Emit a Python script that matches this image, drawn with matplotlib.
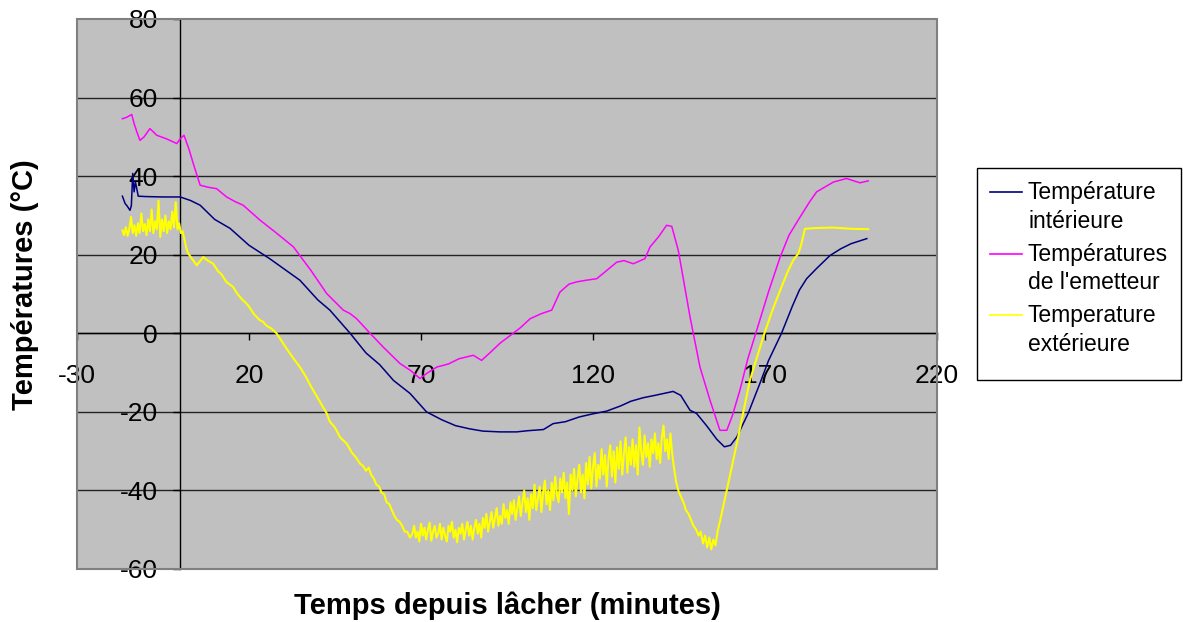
import matplotlib
matplotlib.use("Agg")
import matplotlib.pyplot as plt
from matplotlib.patches import Rectangle
from matplotlib.lines import Line2D

plt.rcParams["font.family"] = ["Liberation Sans", "DejaVu Sans"]
plt.rcParams["axes.unicode_minus"] = False

# ── Data (minutes since release, °C) ────────────────────────────────────────
interieur_x = [-16.8, -16, -15.5, -14.6, -14.2, -13.8, -13.4, -13, -12.2, -10, -5, 0,
               3, 5.8, 10, 14.5, 20, 26, 30, 34.8, 40, 43.5, 49.4, 54, 58, 62, 66.8,
               71.6, 76, 80, 84, 88, 93, 97.8, 101, 105.6, 108.4, 112, 116, 120, 124,
               128, 131, 134.6, 138, 143.3, 145.5, 148.2, 150.1, 153, 156, 158.2, 160,
               161.8, 165.1, 168.5, 171, 174.8, 178, 180, 182.1, 185, 188.9, 192, 195,
               199.6]
interieur_y = [34.9, 33.0, 32.5, 31.3, 32.5, 40.7, 36.0, 38.5, 34.9, 34.8, 34.7, 34.7,
               33.8, 32.6, 29.0, 26.7, 22.4, 19.0, 16.5, 13.5, 8.5, 5.9, 0, -5.0, -8.0,
               -12.0, -15.3, -20.0, -22.0, -23.5, -24.3, -24.9, -25.1, -25.1, -24.8,
               -24.5, -23.0, -22.5, -21.3, -20.5, -19.8, -18.5, -17.3, -16.4, -15.8,
               -14.8, -15.8, -19.6, -20.4, -23.5, -27.0, -28.9, -28.5, -26.4, -20.4,
               -12.8, -7.0, 0, 7.0, 11.0, 13.9, 16.5, 19.8, 21.5, 22.8, 24.1]

emetteur_x = [-16.8, -15.5, -14.1, -13.4, -12.5, -11.7, -10.5, -8.8, -7.5, -6.8, -4, -1.0,
              0, 1.1, 2.5, 3.8, 5.8, 8, 10.6, 13.5, 16, 18.3, 23.2, 28, 32.9, 38, 42.6,
              45, 47.4, 49.4, 51.3, 55.2, 59, 63.9, 67, 69.7, 72, 74.6, 78, 81, 85.2,
              87.6, 90, 93, 96.8, 99, 101.7, 105, 108, 110.4, 113, 115.3, 118, 121.1,
              124, 126.9, 129, 131.7, 135.1, 136.6, 139, 141.4, 142.9, 144.8, 148.2,
              151.1, 154, 156.9, 158.9, 160.5, 162.7, 165, 167.6, 171, 174.4, 177,
              180.2, 183, 185, 189.9, 193.7, 197.6, 200]
emetteur_y = [54.6, 55.0, 55.7, 53.4, 51.0, 49.1, 50.0, 52.1, 51.0, 50.4, 49.5, 48.3,
              49.5, 50.4, 47.0, 43.2, 37.7, 37.2, 36.8, 34.7, 33.5, 32.6, 28.8, 25.5,
              22.0, 16.0, 10.1, 8.0, 5.9, 5.0, 3.7, 0, -3.5, -7.7, -9.5, -11.5, -10.0,
              -8.6, -7.8, -6.5, -5.6, -6.9, -5.0, -2.5, 0, 1.5, 3.7, 5.0, 5.9, 10.5,
              12.5, 13.1, 13.5, 13.9, 16.0, 18.1, 18.5, 17.7, 19.0, 22.0, 24.5, 27.5,
              27.2, 21.1, 4.2, -8.6, -17.0, -24.7, -24.7, -21.0, -14.5, -6.5, 0.8,
              10.5, 19.4, 25.0, 29.6, 33.5, 36.0, 38.5, 39.4, 38.3, 38.8]

# outside sensor is noisy, so it is read point by point as (minute, °C)
exterieur = [
    (-16.8, 26.2), (-16.3, 25.0), (-15.8, 27.0), (-15.3, 24.8), (-14.8, 26.5),
    (-14.3, 29.6), (-13.8, 25.5), (-13.3, 27.5), (-12.8, 24.8), (-12.3, 28.0),
    (-11.8, 25.5), (-11.3, 30.5), (-10.8, 26.0), (-10.3, 27.8), (-9.8, 25.0),
    (-9.3, 29.0), (-8.8, 26.0), (-8.3, 31.5), (-7.8, 25.5), (-7.3, 28.5),
    (-6.8, 26.5), (-6.3, 33.8), (-5.8, 24.5), (-5.3, 29.0), (-4.8, 26.0),
    (-4.3, 30.0), (-3.8, 25.5), (-3.3, 28.5), (-2.8, 26.5), (-2.3, 31.0),
    (-1.8, 27.0), (-1.3, 33.4), (-0.8, 26.5), (-0.3, 28.0), (0.2, 25.5),
    (0.7, 26.0), (1.2, 24.0), (1.7, 22.0), (2.2, 20.5),
    (3, 19.5), (4.8, 17.3), (6.7, 19.4), (8, 18.5), (9.6, 17.7), (11, 15.8),
    (12, 15.0), (13.5, 13.0), (15.4, 11.8), (16.5, 10.2), (18, 8.6), (19, 7.8),
    (20, 6.8), (21.5, 4.8), (23.2, 3.3), (24, 3.0), (25, 2.0), (26.5, 1.2),
    (28, 0), (29.5, -2.0), (31, -4.0), (33, -6.5), (34.8, -8.6), (36.5, -11.0),
    (38, -13.5), (40, -16.5), (42.6, -20.4), (43.5, -22.5), (45, -24.0),
    (46.5, -26.5), (48.4, -28.1), (50, -30.5), (51, -31.5), (52.3, -33.2),
    (53.2, -33.8), (54, -35.0), (54.8, -34.2), (55.5, -36.0), (56.3, -37.0),
    (57, -38.5), (57.8, -39.0), (58.5, -40.5), (59.3, -41.0), (60, -43.0),
    (60.8, -43.5), (61.5, -45.0), (62.3, -46.5), (63, -47.5), (63.8, -48.0),
    (64.5, -49.0), (65.3, -50.5), (66, -50.5), (66.8, -52.0), (67.5, -51.0),
    (68, -49.0), (68.5, -52.0), (69, -50.5), (69.5, -53.0),
    (70, -48.5), (70.5, -51.5), (71, -49.5), (71.5, -52.5),
    (72, -50.0), (72.5, -48.2), (73, -52.8), (73.5, -50.5),
    (74, -49.0), (74.5, -52.0), (75, -51.0), (75.5, -48.5),
    (76, -52.5), (76.5, -49.5), (77, -51.5), (77.5, -53.0),
    (78, -49.0), (78.5, -50.5), (79, -48.0), (79.5, -52.0),
    (80, -50.0), (80.5, -53.2), (81, -49.5), (81.5, -51.0),
    (82, -48.5), (82.5, -52.5), (83, -50.0), (83.5, -48.0),
    (84, -51.5), (84.5, -49.0), (85, -52.5), (85.5, -49.5),
    (86, -47.5), (86.5, -51.0), (87, -48.5), (87.5, -52.0),
    (88, -47.0), (88.5, -49.5), (89, -46.0), (89.5, -50.5),
    (90, -48.0), (90.5, -45.5), (91, -49.5), (91.5, -47.0),
    (92, -44.5), (92.5, -49.0), (93, -46.5), (93.5, -48.5),
    (94, -43.5), (94.5, -47.0), (95, -45.0), (95.5, -48.5),
    (96, -43.0), (96.5, -46.0), (97, -42.5), (97.5, -47.5),
    (98, -44.5), (98.5, -41.5), (99, -46.5), (99.5, -43.0),
    (100, -40.0), (100.5, -45.5), (101, -42.0), (101.5, -47.5),
    (102, -41.0), (102.5, -44.5), (103, -38.5), (103.5, -45.0),
    (104, -42.0), (104.5, -39.0), (105, -45.5), (105.5, -40.5),
    (106, -37.5), (106.5, -43.5), (107, -40.0), (107.5, -45.0),
    (108, -38.0), (108.5, -42.5), (109, -36.5), (109.5, -41.0),
    (110, -43.0), (110.5, -37.0), (111, -40.5), (111.5, -35.5),
    (112, -42.0), (112.5, -38.0), (113, -46.0), (113.5, -36.0),
    (114, -40.0), (114.5, -34.5), (115, -41.5), (115.5, -37.0),
    (116, -33.5), (116.5, -40.5), (117, -36.0), (117.5, -42.0),
    (118, -33.0), (118.5, -38.5), (119, -31.5), (119.5, -39.5),
    (120, -34.0), (120.5, -30.5), (121, -39.0), (121.5, -33.5),
    (122, -37.0), (122.5, -29.5), (123, -36.0), (123.5, -31.0),
    (124, -39.0), (124.5, -32.0), (125, -28.5), (125.5, -36.5),
    (126, -30.0), (126.5, -38.0), (127, -29.0), (127.5, -34.5),
    (128, -27.5), (128.5, -36.0), (129, -30.5), (129.5, -26.5),
    (130, -35.5), (130.5, -29.0), (131, -33.5), (131.5, -27.0),
    (132, -34.0), (132.5, -28.5), (133, -36.0), (133.5, -24.0),
    (134, -30.0), (134.5, -33.5), (135, -26.0), (135.5, -31.5),
    (136, -28.0), (136.5, -34.0), (137, -27.0), (137.5, -30.5),
    (138, -25.5), (138.5, -32.0), (139, -28.0), (139.5, -33.0),
    (140, -26.5), (140.5, -23.5), (141, -30.0), (141.5, -27.0),
    (142, -32.0), (142.5, -25.5), (143, -30.5), (143.5, -34.0),
    (144.2, -38.0), (144.8, -40.0),
    (145.5, -41.5), (146.3, -43.0), (147, -45.0), (147.8, -46.0), (148.5, -47.5),
    (149.2, -49.0), (150, -50.0), (150.7, -51.5), (151.3, -50.5), (152, -53.5),
    (152.6, -51.5), (153.2, -54.5), (153.8, -52.0), (154.4, -55.0), (155, -52.5),
    (155.6, -54.0), (156.2, -50.5), (157, -47.5), (158.9, -39.9), (161.8, -28.1),
    (165.6, -12.0), (169.5, -0.9), (172, 5.5), (174.4, 10.9), (176.5, 15.5),
    (178.2, 18.6), (179.7, 20.3), (180.5, 22.5), (181.6, 26.6), (185, 26.8),
    (189.9, 26.9), (195, 26.6), (200, 26.5),
]
exterieur_x = [p[0] for p in exterieur]
exterieur_y = [p[1] for p in exterieur]

SERIES = [
    ("Température\nintérieure", interieur_x, interieur_y, "#000080", 1.1),
    ("Températures\nde l'emetteur", emetteur_x, emetteur_y, "#FF00FF", 1.1),
    ("Temperature\nextérieure", exterieur_x, exterieur_y, "#FFFF00", 1.5),
]

X_TICKS = [-30, 20, 70, 120, 170, 220]
Y_TICKS = [-60, -40, -20, 0, 20, 40, 60, 80]

W, H = 1183, 622
fig = plt.figure(figsize=(W / 100, H / 100), dpi=100, facecolor="white")
ax = fig.add_axes([77 / W, (H - 569) / H, 860 / W, 550 / H])
ax.set_facecolor("#C0C0C0")

for name, xs, ys, color, lw in SERIES:
    ax.plot(xs, ys, color=color, lw=lw, zorder=3)

ax.set_xlim(-30, 220)
ax.set_ylim(-60, 80)
ax.set_xticks(X_TICKS)
ax.set_yticks(Y_TICKS)

# Excel-style axes crossing at (0, 0)
ax.spines["left"].set_position(("data", 0))
ax.spines["bottom"].set_position(("data", 0))
for s in ("left", "bottom"):
    ax.spines[s].set_color("black")
    ax.spines[s].set_linewidth(1)
    ax.spines[s].set_zorder(2.5)
for s in ("top", "right"):
    ax.spines[s].set_visible(False)

for yv in Y_TICKS[1:-1]:
    ax.axhline(yv, color="#222222", lw=1, zorder=1)

ax.add_patch(Rectangle((0, 0), 1, 1, transform=ax.transAxes, fill=False,
                       edgecolor="#808080", lw=1.5, clip_on=False, zorder=4))

ax.tick_params(axis="x", direction="out", length=5, width=1, pad=17, labelsize=19)
ax.tick_params(axis="y", direction="out", length=5, width=1, pad=11, labelsize=19)

fig.text(507 / W, 1 - 606 / H, "Temps depuis lâcher (minutes)", ha="center",
         va="center", fontsize=21, fontweight="bold")
fig.text(25 / W, 1 - 285 / H, "Températures (°C)", ha="center", va="center",
         rotation=90, fontsize=21, fontweight="bold")

# ── Legend box drawn by hand (handles sit on the first text line) ───────────
fig.add_artist(Rectangle((977 / W, 1 - 380 / H), 204 / W, 212 / H,
                         transform=fig.transFigure, facecolor="white",
                         edgecolor="black", lw=1))
for i, (name, xs, ys, color, lw) in enumerate(SERIES):
    yc = 192 + i * 61.5
    fig.add_artist(Line2D([990 / W, 1022 / W], [1 - yc / H, 1 - yc / H],
                          transform=fig.transFigure, color=color, lw=1.2))
    fig.text(1028 / W, 1 - (yc + 15) / H, name, ha="left", va="center",
             fontsize=16.5, linespacing=1.3)

fig.savefig("out.png", dpi=100, facecolor="white")
